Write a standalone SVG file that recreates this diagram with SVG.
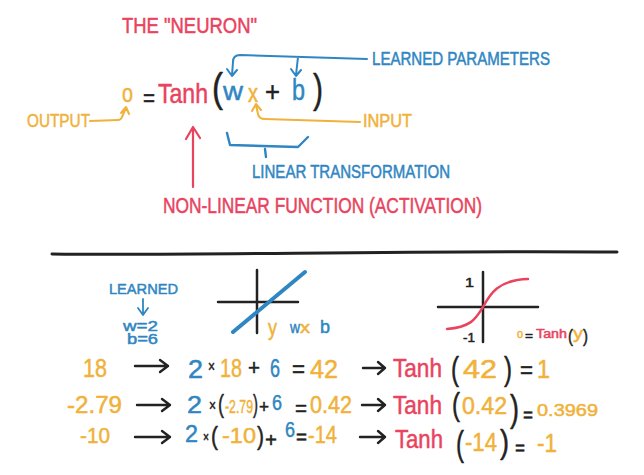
<svg xmlns="http://www.w3.org/2000/svg" width="644" height="475" viewBox="0 0 644 475">
<style>
text{font-family:"Liberation Sans","Open Sans",sans-serif;stroke-width:.5;stroke-linejoin:round}
.r{fill:#e9435e;stroke:#e9435e}.y{fill:#f0b23a;stroke:#f0b23a}.b{fill:#2f86c2;stroke:#2f86c2}.k{fill:#222;stroke:#222}
.ls{stroke-linecap:round;stroke-linejoin:round;fill:none}
.sr{stroke:#e9435e}.sy{stroke:#f0b23a}.sb{stroke:#2f86c2}.sk{stroke:#222}
</style>
<rect width="644" height="475" fill="#fff"/>
<g id="title"><text class="r" x="122" y="33" font-size="22" textLength="135" lengthAdjust="spacingAndGlyphs">THE "NEURON"</text></g>
<g id="formula">
<text class="y" x="122" y="102" font-size="26" textLength="11" lengthAdjust="spacingAndGlyphs">o</text>
<text class="k" x="143" y="106" font-size="24" textLength="12" lengthAdjust="spacingAndGlyphs">=</text>
<text class="r" x="158" y="103" font-size="28" textLength="50" lengthAdjust="spacingAndGlyphs">Tanh</text>
<text class="k" x="212" y="102" font-size="40" textLength="11" lengthAdjust="spacingAndGlyphs">(</text>
<text class="b" x="223" y="100" font-size="26" textLength="20" lengthAdjust="spacingAndGlyphs">w</text>
<text class="y" x="248" y="102" font-size="26" textLength="10" lengthAdjust="spacingAndGlyphs">x</text>
<text class="k" x="265" y="101" font-size="28" textLength="15" lengthAdjust="spacingAndGlyphs">+</text>
<text class="b" x="292" y="100" font-size="30" textLength="13" lengthAdjust="spacingAndGlyphs">b</text>
<text class="k" x="313" y="103" font-size="40" textLength="10" lengthAdjust="spacingAndGlyphs">)</text>
</g>
<g id="learned-parameters"><text class="b" x="372" y="65" font-size="18" textLength="178" lengthAdjust="spacingAndGlyphs">LEARNED PARAMETERS</text></g>
<g id="output-label"><text class="y" x="27" y="127" font-size="18" textLength="63" lengthAdjust="spacingAndGlyphs">OUTPUT</text></g>
<g id="input-label"><text class="y" x="363" y="127" font-size="18" textLength="49" lengthAdjust="spacingAndGlyphs">INPUT</text></g>
<g id="linear-label"><text class="b" x="252" y="178" font-size="18" textLength="198" lengthAdjust="spacingAndGlyphs">LINEAR TRANSFORMATION</text></g>
<g id="nonlinear-label"><text class="r" x="163" y="213" font-size="22" textLength="319" lengthAdjust="spacingAndGlyphs">NON-LINEAR FUNCTION (ACTIVATION)</text></g>

<g id="connectors">
<path class="ls sy" stroke-width="2" d="M90 121 L118 120 Q121 120 122 117 L126 108 M121 113 L126 107 L129 114"/>
<path class="ls sy" stroke-width="2" d="M360 122 L265 119 Q259 119 258 114 L256 105 M252 111 L256 104 L261 110"/>
<path class="ls sb" stroke-width="2" d="M367 59 L240 55 Q233 55 233 62 L232 75 M227 69 L232 76 L237 70 M298 57 L296 75 M291 69 L296 76 L301 70"/>
<path class="ls sr" stroke-width="2.2" d="M193 187 L193 127 M186 139 L193 127 L200 138"/>
<path class="ls sb" stroke-width="2.4" d="M227 133 L230 145 L298 147 L308 137 M265 149 L266 157"/>
<path class="ls sk" stroke-width="3" d="M52 254 C200 256 400 250 617 252"/>
<path class="ls sb" stroke-width="1.8" d="M143 299 L143 314 M138 308 L143 315 L148 308"/>
<g class="ls sk" stroke-width="2.4">
<path d="M135 366 L168 366 M160 360 L168 366 L160 372"/>
<path d="M137 405 L170 405 M162 399 L170 405 L162 411"/>
<path d="M135 437 L170 437 M162 431 L170 437 L162 443"/>
<path d="M363 368 L385 368 M378 362 L385 368 L378 374"/>
<path d="M362 405 L385 405 M378 399 L385 405 L378 411"/>
<path d="M360 437 L385 437 M378 431 L385 437 L378 443"/>
</g>
</g>

<g id="learned">
<text class="b" x="109" y="294" font-size="15" textLength="69" lengthAdjust="spacingAndGlyphs">LEARNED</text>
<text class="b" x="123" y="331" font-size="15" textLength="35" lengthAdjust="spacingAndGlyphs">w=2</text>
<text class="b" x="127" y="344" font-size="15" textLength="31" lengthAdjust="spacingAndGlyphs">b=6</text>
</g>

<g id="linear-graph">
<path class="ls sk" stroke-width="2.5" d="M218 302 L298 302 M257 270 L257 333"/>
<path class="ls sb" stroke-width="4" d="M233 332 L305 272"/>
<text class="y" x="268" y="335" font-size="22" textLength="9" lengthAdjust="spacingAndGlyphs">y</text>
<text class="b" x="290" y="333" font-size="17" textLength="10" lengthAdjust="spacingAndGlyphs">w</text>
<text class="y" x="300" y="333" font-size="17" textLength="10" lengthAdjust="spacingAndGlyphs">x</text>
<text class="b" x="320" y="333" font-size="19" textLength="10" lengthAdjust="spacingAndGlyphs">b</text>
</g>

<g id="tanh-graph">
<path class="ls sk" stroke-width="2.5" d="M438 307 L538 307 M483 272 L483 342"/>
<path class="ls sr" stroke-width="2.5" d="M447 329 C472 327 476 318 483 307 C490 294 498 280 528 279"/>
<text class="k" x="465" y="287" font-size="13" textLength="9" lengthAdjust="spacingAndGlyphs">1</text>
<text class="k" x="463" y="342" font-size="13" textLength="12" lengthAdjust="spacingAndGlyphs">-1</text>
<text class="y" x="517" y="338" font-size="12" textLength="6" lengthAdjust="spacingAndGlyphs">o</text>
<text class="k" x="525" y="340" font-size="13" textLength="8" lengthAdjust="spacingAndGlyphs">=</text>
<text class="r" x="536" y="338" font-size="12" textLength="31" lengthAdjust="spacingAndGlyphs">Tanh</text>
<text class="k" x="568" y="342" font-size="19" textLength="5" lengthAdjust="spacingAndGlyphs">(</text>
<text class="y" x="573" y="339" font-size="16" textLength="10" lengthAdjust="spacingAndGlyphs">y</text>
<text class="k" x="583" y="342" font-size="19" textLength="5" lengthAdjust="spacingAndGlyphs">)</text>
</g>

<g id="row1">
<text class="y" x="83" y="377" font-size="26" textLength="24" lengthAdjust="spacingAndGlyphs">18</text>
<text class="b" x="188" y="378" font-size="26" textLength="15" lengthAdjust="spacingAndGlyphs">2</text>
<text class="k" x="208" y="372" font-size="16" textLength="7" lengthAdjust="spacingAndGlyphs">×</text>
<text class="y" x="220" y="377" font-size="26" textLength="22" lengthAdjust="spacingAndGlyphs">18</text>
<text class="k" x="248" y="375" font-size="22" textLength="12" lengthAdjust="spacingAndGlyphs">+</text>
<text class="b" x="270" y="377" font-size="26" textLength="10" lengthAdjust="spacingAndGlyphs">6</text>
<text class="k" x="292" y="377" font-size="24" textLength="13" lengthAdjust="spacingAndGlyphs">=</text>
<text class="y" x="310" y="378" font-size="26" textLength="28" lengthAdjust="spacingAndGlyphs">42</text>
<text class="r" x="393" y="377" font-size="26" textLength="49" lengthAdjust="spacingAndGlyphs">Tanh</text>
<text class="k" x="451" y="380" font-size="34" textLength="8" lengthAdjust="spacingAndGlyphs">(</text>
<text class="y" x="463" y="378" font-size="26" textLength="34" lengthAdjust="spacingAndGlyphs">42</text>
<text class="k" x="504" y="380" font-size="34" textLength="8" lengthAdjust="spacingAndGlyphs">)</text>
<text class="k" x="520" y="378" font-size="24" textLength="13" lengthAdjust="spacingAndGlyphs">=</text>
<text class="y" x="537" y="378" font-size="26" textLength="13" lengthAdjust="spacingAndGlyphs">1</text>
</g>

<g id="row2">
<text class="y" x="67" y="413" font-size="23" textLength="55" lengthAdjust="spacingAndGlyphs">-2.79</text>
<text class="b" x="187" y="413" font-size="24" textLength="15" lengthAdjust="spacingAndGlyphs">2</text>
<text class="k" x="209" y="411" font-size="16" textLength="7" lengthAdjust="spacingAndGlyphs">×</text>
<text class="k" x="218" y="413" font-size="26" textLength="6" lengthAdjust="spacingAndGlyphs">(</text>
<text class="y" x="225" y="413" font-size="18" textLength="28" lengthAdjust="spacingAndGlyphs">-2.79</text>
<text class="k" x="253" y="413" font-size="26" textLength="5" lengthAdjust="spacingAndGlyphs">)</text>
<text class="k" x="259" y="413" font-size="18" textLength="10" lengthAdjust="spacingAndGlyphs">+</text>
<text class="b" x="272" y="410" font-size="22" textLength="10" lengthAdjust="spacingAndGlyphs">6</text>
<text class="k" x="295" y="416" font-size="22" textLength="12" lengthAdjust="spacingAndGlyphs">=</text>
<text class="y" x="310" y="413" font-size="23" textLength="42" lengthAdjust="spacingAndGlyphs">0.42</text>
<text class="r" x="393" y="414" font-size="26" textLength="49" lengthAdjust="spacingAndGlyphs">Tanh</text>
<text class="k" x="452" y="415" font-size="32" textLength="8" lengthAdjust="spacingAndGlyphs">(</text>
<text class="y" x="462" y="414" font-size="23" textLength="45" lengthAdjust="spacingAndGlyphs">0.42</text>
<text class="k" x="510" y="421" font-size="36" textLength="9" lengthAdjust="spacingAndGlyphs">)</text>
<text class="k" x="523" y="422" font-size="20" textLength="10" lengthAdjust="spacingAndGlyphs">=</text>
<text class="y" x="537" y="416" font-size="17" textLength="61" lengthAdjust="spacingAndGlyphs">0.3969</text>
</g>

<g id="row3">
<text class="y" x="80" y="443" font-size="22" textLength="30" lengthAdjust="spacingAndGlyphs">-10</text>
<text class="b" x="185" y="442" font-size="24" textLength="13" lengthAdjust="spacingAndGlyphs">2</text>
<text class="k" x="203" y="442" font-size="14" textLength="6" lengthAdjust="spacingAndGlyphs">×</text>
<text class="k" x="211" y="445" font-size="26" textLength="7" lengthAdjust="spacingAndGlyphs">(</text>
<text class="y" x="222" y="443" font-size="22" textLength="34" lengthAdjust="spacingAndGlyphs">-10</text>
<text class="k" x="257" y="445" font-size="26" textLength="7" lengthAdjust="spacingAndGlyphs">)</text>
<text class="k" x="265" y="447" font-size="20" textLength="12" lengthAdjust="spacingAndGlyphs">+</text>
<text class="b" x="285" y="437" font-size="22" textLength="10" lengthAdjust="spacingAndGlyphs">6</text>
<text class="k" x="296" y="444" font-size="20" textLength="11" lengthAdjust="spacingAndGlyphs">=</text>
<text class="y" x="308" y="443" font-size="24" textLength="29" lengthAdjust="spacingAndGlyphs">-14</text>
<text class="r" x="395" y="448" font-size="26" textLength="48" lengthAdjust="spacingAndGlyphs">Tanh</text>
<text class="k" x="456" y="456" font-size="35" textLength="8" lengthAdjust="spacingAndGlyphs">(</text>
<text class="y" x="465" y="451" font-size="26" textLength="32" lengthAdjust="spacingAndGlyphs">-14</text>
<text class="k" x="500" y="453" font-size="34" textLength="9" lengthAdjust="spacingAndGlyphs">)</text>
<text class="k" x="515" y="455" font-size="20" textLength="10" lengthAdjust="spacingAndGlyphs">=</text>
<text class="y" x="537" y="452" font-size="26" textLength="20" lengthAdjust="spacingAndGlyphs">-1</text>
</g>
</svg>
